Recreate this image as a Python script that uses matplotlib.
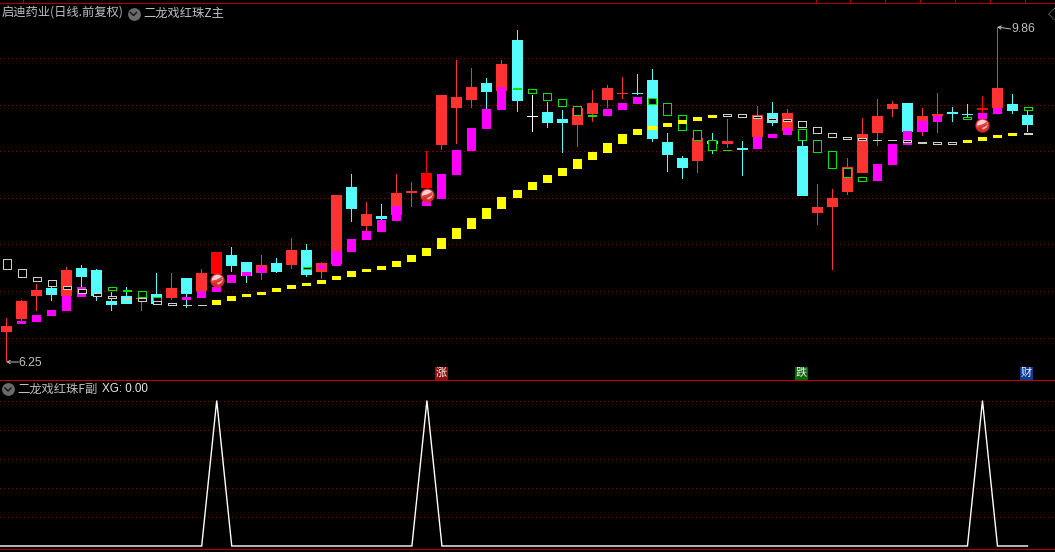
import matplotlib
matplotlib.use("Agg")
import matplotlib.pyplot as plt
import numpy as np
from matplotlib.path import Path

plt.rcParams['font.family'] = ['Noto Sans CJK SC', 'DejaVu Sans']

W, H = 1055, 552
SEP = 380.5

# ---- data (chart rows, converted to price by to_price) ----
kind = ['u','u','u','d','u','d','d','d','d','u','d','u','d','u','b','d','d','u','d','u','d','u','u','d','u','d','u','u','b',
        'u','u','u','d','u','d','w','d','d','u','u','u','u','d','d','d','d','u','d','u','d','u','d','u','d','u','u','u','u','u',
        'u','d','u','u','d','d','b','u','d','d']
body_top = [326,301,290,288,270,268,270,301,296,298,294,288,278,273,252,255,262,265,263,250,250,263,195,187,214,216,193,191,173,
            95,97,87,83,64,40,116,112,119,108,103,88,93,93,80,142,158,138,141,141,148,115,113,113,146,207,198,167,134,116,104,103,116,114,112,114,108,88,104,115]
body_bot = [332,319,296,295,296,277,296,305,304,299,304,298,294,291,274,266,276,273,272,265,275,272,264,209,226,219,215,193,188,
            145,108,100,92,91,101,117,123,123,125,114,100,94,94,139,155,168,161,144,144,150,137,123,131,196,213,207,192,173,133,109,132,132,116,114,115,110,108,111,125]
high = [318,300,284,286,267,265,269,292,287,298,273,273,278,269,252,247,262,255,258,238,244,262,195,174,202,204,174,182,151,
        95,60,68,78,60,30,95,102,110,108,90,85,77,74,69,133,156,138,133,119,141,106,102,109,140,184,189,158,118,99,101,103,108,93,107,104,96,27,94,110]
low = [362,322,311,301,296,287,301,311,304,311,304,300,308,291,274,272,283,280,273,269,277,279,264,222,231,220,215,207,188,
       150,144,108,109,91,112,132,128,153,147,122,108,99,95,142,172,179,173,154,148,176,137,126,131,196,225,270,195,173,146,117,132,136,133,122,120,113,108,114,132]

magenta_idx = [1,2,3,4,5,12,13,14,15,16,17,21,22,23,24,25,26,28,29,30,31,32,33,40,41,42,50,51,52,58,59,60,61,62,65,66]
magenta_top = [321,315,310,296,287,297,291,287,275,272,267,265,251,239,231,220,206,201,174,150,128,109,87,109,103,97,137,134,128,164,144,131,121,116,113,108]
magenta_bot = [324,322,316,311,297,300,298,292,283,276,273,269,266,252,240,232,221,206,199,175,151,129,110,116,110,104,149,138,135,181,165,145,132,122,119,114]

yellow_idx = [14,15,16,17,18,19,20,21,22,23,24,25,26,27,28,29,30,31,32,33,34,35,36,37,38,39,40,41,42,43,44,45,46,47,64,65,66,67]
yellow_top = [300,296,294,292,288,285,283,280,276,271,269,266,261,255,248,238,228,218,208,197,190,182,175,168,159,152,143,134,129,126,123,120,117,115,140,137,135,133]
yellow_bot = [305,301,297,295,292,289,286,284,280,277,272,270,267,262,256,249,239,229,219,209,198,190,183,176,169,160,153,144,135,130,127,124,121,118,143,141,138,136]

gray_idx = [0,1,2,3,4,5,6,7,8,9,10,11,12,13,48,49,50,51,52,53,54,55,56,57,58,59,60,61,62,63,68]
gray_top = [258,268,276,280,285,288,292,295,297,298,300,303,304,304,113,113,116,117,119,120,126,132,136,138,139,139,139,141,142,142,132]
gray_bot = [269,277,281,286,289,293,296,298,299,301,304,305,305,305,116,117,118,120,121,127,133,137,139,140,140,140,142,143,144,144,134]

green_idx = [7,8,9,10,20,34,35,36,37,38,39,43,44,45,46,47,48,53,54,55,56,57,64,68]
green_top = [286,289,290,296,266,87,88,92,99,105,114,97,103,114,130,139,149,128,139,151,167,176,116,107]
green_bot = [290,291,297,301,269,89,93,100,106,115,116,104,115,131,140,150,150,140,152,168,177,181,119,110]

signal_idx = [14, 28, 65]
signal_row = [280, 195, 125]

sub_idx = list(range(-1, 69))
xg = [0,0,0,0,0,0,0,0,0,0,0,0,0,0,0,1,0,0,0,0,0,0,0,0,0,0,0,0,0,1,0,0,0,0,0,
      0,0,0,0,0,0,0,0,0,0,0,0,0,0,0,0,0,0,0,0,0,0,0,0,0,0,0,0,0,0,0,1,0,0,0]
sub_grid = [0.2, 0.4, 0.6, 0.8, 1.0]

title_left = "启迪药业(日线.前复权)"
title_main = "二龙戏红珠Z主"
title_sub = "二龙戏红珠F副"
xg_label = "XG: 0.00"
low_label, high_label = "6.25", "9.86"
badges = [("涨", 441.5, "#8C1010"), ("跌", 801.5, "#0A6A0A"), ("财", 1026.5, "#0A3C96")]
top_ticks = [23, 816, 850, 885, 920, 955, 990, 1025]

# ---- colours ----
BG = "#000000"
RED, CYAN, BRIGHT, WHITE = "#FF3232", "#54FCFC", "#FF0000", "#FFFFFF"
MAG, YEL, GRY, GRN = "#FF00FF", "#FFFF00", "#CFCFC4", "#00E600"
FRAME, GRID, TXT = "#B00000", "#8A0000", "#C0C0C0"
CMAP = {'u': RED, 'd': CYAN, 'b': BRIGHT, 'w': WHITE}

# ---- scales ----
PX0, DX = 6.5, 15.015
P_TOP_ROW, P_SLOPE = 10.152, 0.01078


def to_price(row):
    return P_TOP_ROW - np.asarray(row, float) * P_SLOPE


fig = plt.figure(figsize=(W / 100, H / 100), dpi=100, facecolor=BG)
xlim = (-PX0 / DX, (W - PX0) / DX)

ax = fig.add_axes([0, 1 - SEP / H, 1, SEP / H], facecolor=BG)
ax.set_xlim(xlim)
ax.set_ylim(to_price(SEP), to_price(0))
ax.axis("off")

sub = fig.add_axes([0, 0, 1, 1 - SEP / H], facecolor=BG)
sub.set_xlim(xlim)
Y0_ROW, Y1_ROW = 546.0, 400.5
k = Y0_ROW - Y1_ROW
sub.set_ylim(-(H - Y0_ROW) / k, (Y0_ROW - SEP) / k)
sub.axis("off")

# grid
for r in [58, 104.5, 151, 198, 244, 291, 338]:
    ax.axhline(to_price(r), color=GRID, lw=0.72, ls=(0, (1, 4)), antialiased=False, zorder=0)
for v in sub_grid:
    sub.axhline(v, color=GRID, lw=0.72, ls=(0, (1, 4)), antialiased=False, zorder=0)

x = np.arange(len(body_top))
cols = [CMAP[c] for c in kind]

# candles: wicks as one-pixel bars, then bodies
ax.bar(x, to_price(high) - to_price(low), bottom=to_price(low), width=1 / DX,
       color=cols, lw=0, antialiased=False, zorder=2)
ax.bar(x, to_price(body_top) - to_price(body_bot), bottom=to_price(body_bot), width=11 / DX,
       color=cols, lw=0, antialiased=False, zorder=3)


def solid(idx, top, bot, color, z):
    ax.bar(idx, to_price(top) - to_price(bot), bottom=to_price(bot), width=9 / DX,
           color=color, lw=0, antialiased=False, zorder=z)


def hollow(idx, top, bot, color, z):
    t_ = np.asarray(top, float) + 0.5
    b_ = np.asarray(bot, float) - 0.5
    ax.bar(idx, to_price(t_) - to_price(b_), bottom=to_price(b_), width=8 / DX,
           facecolor=BG, edgecolor=color, lw=0.72, joinstyle="miter", antialiased=False, zorder=z)


solid(magenta_idx, magenta_top, magenta_bot, MAG, 4)
hollow(green_idx, green_top, green_bot, GRN, 5)
hollow(gray_idx, gray_top, gray_bot, GRY, 6)
solid(yellow_idx, yellow_top, yellow_bot, YEL, 7)

# signal balls
t = np.linspace(0, np.pi, 12)
cap = Path(np.column_stack([np.cos(t + 0.35) * 0.88, np.sin(t + 0.35) * 0.88]))
stripe = Path([(-0.75, -0.02), (-0.1, 0.12), (0.72, 0.55), (0.62, 0.28), (-0.1, -0.18), (-0.7, -0.28)])
dot = Path([(-0.1, -0.32), (0.35, -0.1), (0.7, 0.2), (0.5, -0.25), (0.1, -0.5)])
sx, sy = signal_idx, to_price(signal_row)
ax.scatter(sx, sy, s=105, c="#D82A2A", lw=0, zorder=8)
ax.scatter(sx, sy, s=70, c="#F8D0D0", marker=cap, lw=0, zorder=9)
ax.scatter(sx, sy, s=70, c="#E04040", marker=stripe, lw=0, zorder=10)
ax.scatter(sx, sy, s=70, c="#F4B0B0", marker=dot, lw=0, zorder=10)

# extreme labels
price_font = dict(family="Liberation Sans", fontsize=8.8, color=TXT, va="center", zorder=11)
ax.annotate("", xy=(0, to_price(362)), xytext=(12 / DX, to_price(362)),
            arrowprops=dict(arrowstyle="->,head_length=0.2,head_width=0.12", color=TXT, lw=0.7, shrinkA=0, shrinkB=0))
ax.text(12 / DX, to_price(362.5), low_label, ha="left", **price_font)
ax.annotate("", xy=(66, to_price(27)), xytext=(66 + 13 / DX, to_price(29)),
            arrowprops=dict(arrowstyle="->,head_length=0.2,head_width=0.12", color=TXT, lw=0.7, shrinkA=0, shrinkB=0))
ax.text(66 + 14.2 / DX, to_price(29.5), high_label, ha="left", **price_font)

# sub panel
sub.plot(sub_idx, xg, color="#FFFFFF", lw=1.0, antialiased=True, solid_joinstyle="miter", zorder=3)

# decorations in figure pixels
deco = fig.add_axes([0, 0, 1, 1], facecolor="none")
deco.set_xlim(0, W)
deco.set_ylim(H, 0)
deco.axis("off")
deco.axhspan(3, 4, color=FRAME, lw=0, antialiased=False)
deco.axhspan(380, 381, color="#C80000", lw=0, antialiased=False)
deco.axhspan(549, 550, color=FRAME, lw=0, antialiased=False)
deco.bar(top_ticks, 3, bottom=0, width=1, color=FRAME, lw=0, antialiased=False)
deco.plot([1055, 1048.5, 1055], [8, 14, 20], color="#707070", lw=0.8, ls=(0, (1, 0.6)))

head = dict(fontsize=8.85, color=TXT, va="center", ha="left")
deco.text(2, 13, title_left, **head)
deco.text(143.5, 13, title_main, **head)
deco.text(17.5, 389, title_sub, **head)
deco.text(102, 389, xg_label, family="Liberation Sans", fontsize=8.4, color="#E8E8E8", va="center", ha="left")

for cx, cy in [(133.5, 13.5), (8, 389)]:
    deco.scatter([cx], [cy], s=85, c="#6A6A6A", lw=0, zorder=3)
    deco.plot([cx - 3, cx, cx + 3], [cy - 1, cy + 2, cy - 1], color="#101010", lw=1.0, zorder=4)

for ch, cx, col in badges:
    deco.fill_between([cx - 6.5, cx + 6.5], 366.5, 379.5, color=col, lw=0, zorder=2)
    deco.text(cx, 372.5, ch, fontsize=8, color="#F0F0F0", ha="center", va="center", zorder=3)

fig.savefig("out.png", dpi=100, facecolor=BG)
